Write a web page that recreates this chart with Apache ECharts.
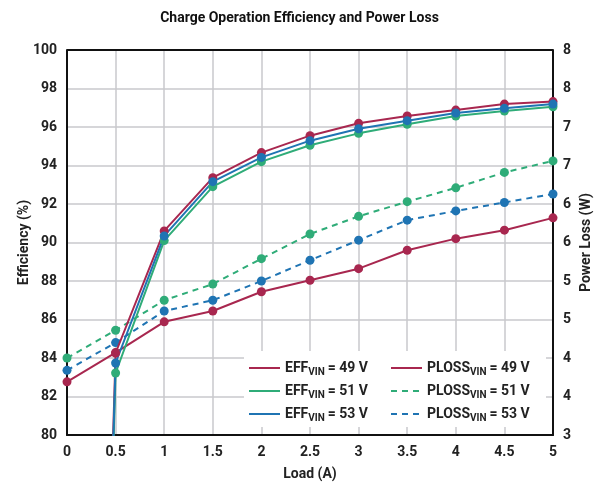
<!DOCTYPE html>
<html><head><meta charset="utf-8">
<script src="https://cdn.jsdelivr.net/npm/echarts@6/dist/echarts.min.js"></script>
<style>html,body{margin:0;padding:0;background:#fff}#c{width:599px;height:483px}</style>
</head><body><div id="c"></div>
<script>
const loadA = [0, 0.5, 1, 1.5, 2, 2.5, 3, 3.5, 4, 4.5, 5];
const eff49 = [0, 84.26, 90.6, 93.37, 94.67, 95.55, 96.19, 96.57, 96.88, 97.19, 97.32];
const eff51 = [0, 83.22, 90.1, 92.9, 94.2, 95.05, 95.67, 96.14, 96.57, 96.83, 97.05];
const eff53 = [0, 83.74, 90.34, 93.16, 94.42, 95.29, 95.91, 96.33, 96.73, 96.97, 97.19];
const ploss49 = [3.69, 4.07, 4.47, 4.61, 4.86, 5.01, 5.16, 5.40, 5.55, 5.66, 5.82];
const ploss51 = [4.0, 4.36, 4.75, 4.96, 5.29, 5.61, 5.84, 6.03, 6.21, 6.41, 6.56];
const ploss53 = [3.84, 4.20, 4.61, 4.75, 5.00, 5.27, 5.53, 5.79, 5.91, 6.02, 6.13];
const xTicks = ['0','0.5','1','1.5','2','2.5','3','3.5','4','4.5','5'];
const legendVin = {EFF49:['EFF','49 V'],EFF51:['EFF','51 V'],EFF53:['EFF','53 V'],PLOSS49:['PLOSS','49 V'],PLOSS51:['PLOSS','51 V'],PLOSS53:['PLOSS','53 V']};

const RED='#a8274f', GREEN='#2fac78', BLUE='#1f74b3';
const FONT='Roboto';
const pair = a => loadA.map((x,i)=>[x,a[i]]);
function mk(name, data, color, yIdx, dashed){
  return {name, type:'line', yAxisIndex:yIdx, data:pair(data), symbol:'circle', symbolSize:9,
    clip:true, color,
    lineStyle:{color, width:2, type: dashed?[6,5]:'solid'},
    itemStyle:{color}, z: yIdx===0?3:2};
}
const chart = echarts.init(document.getElementById('c'), null, {renderer:'canvas'});
const rich = {a:{fontFamily:FONT,fontWeight:'bold',fontSize:14,color:'#222'},
  s:{fontFamily:FONT,fontWeight:'bold',fontSize:10,color:'#222',padding:[8,3,0,0]}};
const fmt = n => '{a|'+legendVin[n][0]+'}{s|VIN}{a|= '+legendVin[n][1]+'}';
const legendCommon = {orient:'vertical', itemWidth:31, itemHeight:10, itemGap:7,
  textStyle:{rich}, formatter:fmt, itemStyle:{opacity:0}, padding:0, z:10};
const axisText = {fontFamily:FONT,fontWeight:'bold',fontSize:14,color:'#222'};
chart.setOption({
  animation:false,
  title:{text:'Charge Operation Efficiency and Power Loss', left:'center', top:6,
    textStyle:{fontFamily:FONT,fontWeight:'bold',fontSize:14,color:'#111'}},
  grid:{left:67, right:46, top:50, bottom:48, containLabel:false, outerBoundsMode:'none'},
  graphic:[{type:'rect', shape:{x:244,y:351,width:302,height:76}, style:{fill:'#fff'}, z:5},
    {type:'line', shape:{x1:67,y1:50,x2:553,y2:50}, style:{stroke:'#111',lineWidth:2}, z:20}],
  legend:[
    Object.assign({data:['EFF49','EFF51','EFF53'], left:248, top:361}, legendCommon),
    Object.assign({data:['PLOSS49','PLOSS51','PLOSS53'], left:390, top:361}, legendCommon)
  ],
  xAxis:{type:'value', min:0, max:5, interval:0.5, name:'Load (A)', nameLocation:'middle', nameGap:32,
    nameTextStyle:axisText, nameMoveOverlap:false,
    axisLine:{lineStyle:{color:'#111',width:2}}, axisTick:{show:false},
    axisLabel:Object.assign({margin:10, formatter:(v)=>xTicks[Math.round(v*2)]}, axisText),
    splitLine:{show:true,lineStyle:{color:'#c8c8cc',width:1.5}}},
  yAxis:[
    {type:'value', min:80, max:100, interval:2, name:'Efficiency (%)', nameLocation:'middle', nameGap:36,
      nameTextStyle:axisText, nameMoveOverlap:false,
      axisLine:{show:true,lineStyle:{color:'#111',width:2}}, axisTick:{show:false},
      axisLabel:Object.assign({margin:10}, axisText),
      splitLine:{show:true,lineStyle:{color:'#c8c8cc',width:1.5}}},
    {type:'value', min:3, max:8, interval:0.5, name:'Power Loss (W)', nameLocation:'middle', nameGap:26,
      nameRotate:90, position:'right', nameMoveOverlap:false,
      nameTextStyle:axisText,
      axisLine:{show:true,lineStyle:{color:'#111',width:2}}, axisTick:{show:false},
      axisLabel:Object.assign({margin:10, formatter:(v)=>String(Math.round(v))}, axisText),
      splitLine:{show:false}}
  ],
  series:[
    mk('EFF49',eff49,RED,0,false), mk('EFF51',eff51,GREEN,0,false), mk('EFF53',eff53,BLUE,0,false),
    mk('PLOSS49',ploss49,RED,1,false), mk('PLOSS51',ploss51,GREEN,1,true), mk('PLOSS53',ploss53,BLUE,1,true)
  ]
});
</script></body></html>
